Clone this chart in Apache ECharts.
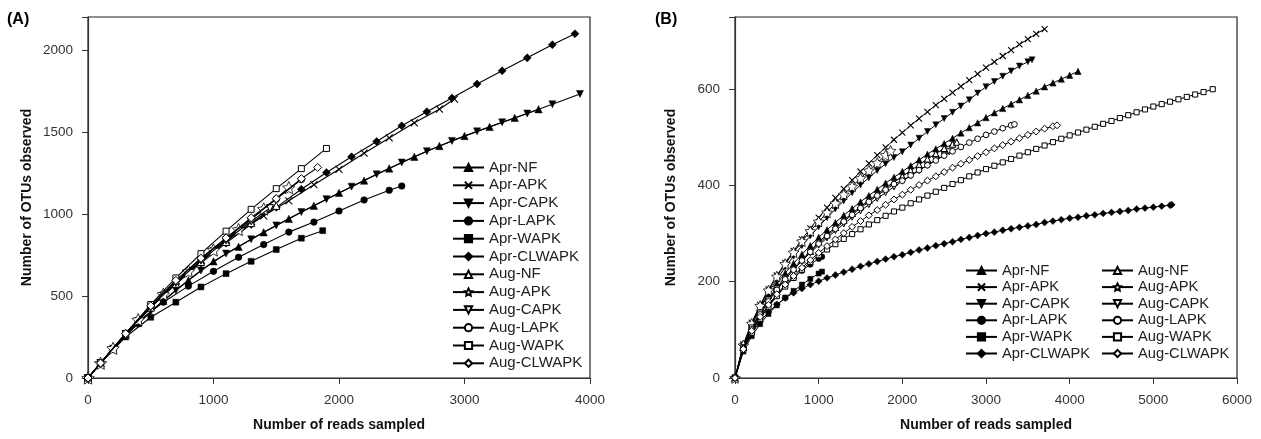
<!DOCTYPE html>
<html><head><meta charset="utf-8">
<script src="https://cdn.jsdelivr.net/npm/echarts@6/dist/echarts.min.js"></script>
<style>html,body{margin:0;padding:0;background:#fff}#c{width:1261px;height:439px}</style>
</head><body><div id="c"></div>
<script>
// ---------- DATA ----------
const seriesNames = ['Apr-NF','Apr-APK','Apr-CAPK','Apr-LAPK','Apr-WAPK','Apr-CLWAPK',
                     'Aug-NF','Aug-APK','Aug-CAPK','Aug-LAPK','Aug-WAPK','Aug-CLWAPK'];

// Panel A: reads sampled and OTUs observed
const readsA_AprNF  = [0,100,200,400,600,800,1000,1200,1400,1600,1800,2000,2200,2400,2600,2800,3000,3200,3400,3590];
const otusA_AprNF   = [0,90,178,335,470,595,711,800,888,970,1050,1128,1203,1277,1348,1414,1475,1530,1585,1638];
const readsA_AprAPK = [0,100,200,400,600,800,1000,1200,1400,1600,1800,2000,2200,2400,2600,2800,2920];
const otusA_AprAPK  = [0,90,180,350,505,645,775,893,988,1080,1178,1272,1370,1463,1555,1638,1700];
const readsA_AprCAPK = [0,100,300,500,700,900,1100,1300,1500,1700,1900,2100,2300,2500,2700,2900,3100,3300,3500,3700,3920];
const otusA_AprCAPK  = [0,90,260,405,535,655,758,845,930,1011,1090,1166,1241,1313,1382,1445,1503,1558,1612,1668,1731];
const readsA_AprLAPK = [0,100,200,400,600,800,1000,1200,1400,1600,1800,2000,2200,2400,2500];
const otusA_AprLAPK  = [0,90,178,345,462,560,650,736,813,889,950,1018,1085,1144,1170];
const readsA_AprWAPK = [0,100,300,500,700,900,1100,1300,1500,1700,1870];
const otusA_AprWAPK  = [0,90,250,370,462,555,636,711,783,852,898];
const readsA_AprCLWAPK = [0,100,300,500,700,900,1100,1300,1500,1700,1900,2100,2300,2500,2700,2900,3100,3300,3500,3700,3880];
const otusA_AprCLWAPK  = [0,90,270,432,572,700,822,936,1040,1150,1252,1348,1441,1537,1623,1706,1792,1872,1951,2031,2098];
const readsA_AugNF  = [0,100,300,500,700,900,1100,1300,1500];
const otusA_AugNF   = [0,91,268,430,575,708,830,945,1050];
const readsA_AugAPK = [0,100,200,400,600,800,1000,1200,1400,1600];
const otusA_AugAPK  = [0,90,181,355,510,650,780,905,1030,1160];
const readsA_AugCAPK = [0,100,300,500,700,900,1100,1300,1450];
const otusA_AugCAPK  = [0,91,268,432,580,715,838,955,1035];
const readsA_AugLAPK = [0,100,300,500,700,900,1100,1300,1500,1700];
const otusA_AugLAPK  = [0,92,272,440,590,725,850,970,1090,1210];
const readsA_AugWAPK = [0,100,300,500,700,900,1100,1300,1500,1700,1900];
const otusA_AugWAPK  = [0,92,272,448,610,758,895,1028,1154,1276,1399];
const readsA_AugCLWAPK = [0,100,300,500,700,900,1100,1300,1500,1700,1830];
const otusA_AugCLWAPK  = [0,91,270,440,595,730,854,977,1093,1215,1283];

// Panel B: OTUs observed every 100 reads; last point at the sample's total reads
const stepB = 100;
const lastReadsB = [4100,3700,3550,1040,1040,5220,2650,1860,2560,3340,5710,3850];
const otusB_AprNF = [0,68,112,145,172,196,218,238,257,275,292,308,323,338,352,366,379,392,405,417,429,441,453,465,476,487,498,509,520,530,541,551,560,569,578,587,596,605,613,621,629,637];
const otusB_AprAPK = [0,70,115,152,184,213,239,264,288,311,333,354,374,393,411,429,446,463,479,495,510,525,539,553,567,580,593,606,619,632,645,657,669,681,693,704,715,725];
const otusB_AprCAPK = [0,67,110,146,177,205,230,253,275,295,314,333,351,368,385,401,416,431,445,458,470,484,498,512,526,539,552,565,578,592,605,616,627,638,648,657,661];
const otusB_AprLAPK = [0,60,97,126,151,172,191,208,223,236,248,252];
const otusB_AprWAPK = [0,55,87,112,133,151,167,181,194,206,217,221];
const otusB_AprCLWAPK = [0,58,93,117,137,153,166,177,186,194,201,208,214,220,226,232,237,242,247,252,256,261,266,270,275,279,283,288,292,296,300,303,307,310,313,316,319,323,326,329,332,334,337,339,342,344,346,348,351,353,355,357,359,360];
const otusB_AugNF = [0,64,106,138,165,188,209,228,246,263,283,298,313,328,342,356,369,382,395,407,419,431,443,455,466,477,486,490];
const otusB_AugAPK = [0,68,113,150,182,211,237,261,284,305,325,344,363,381,398,415,431,447,463,472];
const otusB_AugCAPK = [0,63,104,135,162,185,206,225,243,260,276,291,306,320,334,347,360,373,385,397,409,420,431,442,453,463,470];
const otusB_AugLAPK = [0,62,101,132,159,183,205,225,244,262,279,295,310,325,339,353,366,379,391,403,410,421,432,442,452,462,471,480,489,497,505,512,519,525,527];
const otusB_AugWAPK = [0,58,94,123,148,170,190,208,225,241,255,267,278,289,299,309,319,328,337,346,354,363,371,379,387,395,403,411,419,427,434,441,448,455,462,469,476,483,490,497,504,510,516,522,528,534,540,546,552,558,564,569,574,579,584,589,594,600];
const otusB_AugCLWAPK = [0,60,98,127,152,174,194,212,229,245,260,274,288,301,314,326,338,349,360,371,381,391,401,410,419,428,437,445,453,461,469,477,484,491,498,505,512,518,523,525];

// axis ticks
const xTicksA = [0,1000,2000,3000,4000];
const yTicksA = [0,500,1000,1500,2000];
const xTicksB = [0,1000,2000,3000,4000,5000,6000];
const yTicksB = [0,200,400,600];

// ---------- BUILD ----------
const readsA = [readsA_AprNF,readsA_AprAPK,readsA_AprCAPK,readsA_AprLAPK,readsA_AprWAPK,readsA_AprCLWAPK,
                readsA_AugNF,readsA_AugAPK,readsA_AugCAPK,readsA_AugLAPK,readsA_AugWAPK,readsA_AugCLWAPK];
const otusA = [otusA_AprNF,otusA_AprAPK,otusA_AprCAPK,otusA_AprLAPK,otusA_AprWAPK,otusA_AprCLWAPK,
               otusA_AugNF,otusA_AugAPK,otusA_AugCAPK,otusA_AugLAPK,otusA_AugWAPK,otusA_AugCLWAPK];
const otusB = [otusB_AprNF,otusB_AprAPK,otusB_AprCAPK,otusB_AprLAPK,otusB_AprWAPK,otusB_AprCLWAPK,
               otusB_AugNF,otusB_AugAPK,otusB_AugCAPK,otusB_AugLAPK,otusB_AugWAPK,otusB_AugCLWAPK];

const STAR = 'path://M50,0L64.7,29.8L97.6,34.5L73.8,57.7L79.4,90.5L50,75L20.6,90.5L26.2,57.7L2.4,34.5L35.3,29.8Z';
const TDOWN = 'path://M0,0L10,0L5,9Z';
const CROSS = 'path://M0,0L10,10M10,0L0,10';
// [symbol, filled, size factor]
const sym = [
  ['triangle',true,1.05],[CROSS,'cross',1],[TDOWN,true,1],['circle',true,0.95],['rect',true,0.85],['diamond',true,1.15],
  ['triangle',false,1.05],[STAR,false,1.75],[TDOWN,false,1],['circle',false,0.95],['rect',false,0.85],['diamond',false,1.15]
];
function itemStyleFor(k){
  const f = sym[k][1];
  if (f === 'cross') return {color:'#000',borderColor:'#000',borderWidth:1.1};
  if (f) return {color:'#000',borderColor:'#000',borderWidth:0.5};
  return {color:'#fff',borderColor:'#000',borderWidth:k===7?0.8:1};
}

const series = [];
seriesNames.forEach((name,k)=>{
  const dA = readsA[k].map((r,i)=>[r, otusA[k][i]]);
  series.push({
    name, type:'line', xAxisIndex:0, yAxisIndex:0, data:dA,
    symbol:sym[k][0], symbolSize:7*sym[k][2], showAllSymbol:true,
    lineStyle:{color:'#000',width:1.1}, itemStyle:itemStyleFor(k),
    emphasis:{disabled:true}, z: 2 + k*0.01
  });
  const arr = otusB[k];
  const dB = arr.map((v,i)=>[i===arr.length-1 ? lastReadsB[k] : i*stepB, v]);
  series.push({
    name, type:'line', xAxisIndex:1, yAxisIndex:1, data:dB,
    symbol:sym[k][0], symbolSize:6*sym[k][2], showAllSymbol:true,
    lineStyle:{color:'#000',width:1}, itemStyle:itemStyleFor(k),
    emphasis:{disabled:true}, z: 2 + k*0.01
  });
});

const FONT = 'Liberation Sans, Arial, sans-serif';
function xAxis(grid, ticks){
  return {
    type:'value', gridIndex:grid, min:ticks[0], max:ticks[ticks.length-1], interval:ticks[1]-ticks[0],
    name:'Number of reads sampled', nameLocation:'middle', nameGap:40,
    nameTextStyle:{fontFamily:FONT,fontSize:14,fontWeight:'bold',color:'#111'},
    axisLine:{show:true,onZero:false,lineStyle:{color:'#333',width:1.2}},
    axisTick:{show:true,inside:false,length:6,lineStyle:{color:'#333'}},
    axisLabel:{fontFamily:FONT,fontSize:13.5,color:'#333',margin:15,formatter:(v)=>String(v)},
    splitLine:{show:false}
  };
}
function yAxis(grid, ticks, max, gap){
  const step = ticks[1]-ticks[0];
  return {
    type:'value', gridIndex:grid, min:0, max:max, interval:step,
    name:'Number of OTUs observed', nameLocation:'middle', nameGap:gap,
    nameTextStyle:{fontFamily:FONT,fontSize:14,fontWeight:'bold',color:'#111'},
    axisLine:{show:true,onZero:false,lineStyle:{color:'#333',width:1.2}},
    axisTick:{show:true,inside:false,length:6,lineStyle:{color:'#333'}},
    axisLabel:{fontFamily:FONT,fontSize:13.5,color:'#333',margin:15,
      formatter:(v)=> ticks.indexOf(v)>=0 ? String(v) : ''},
    splitLine:{show:false}
  };
}

const legendTextA = {fontFamily:FONT,fontSize:15,color:'#222',lineHeight:14,padding:[0,0,0,0]};
const legendTextB = {fontFamily:FONT,fontSize:14.7,color:'#222',lineHeight:14,padding:[0,0,0,0]};
const option = {
  animation:false,
  backgroundColor:'#fff',
  grid:[
    {left:88,right:671,top:17,bottom:61,show:true,borderColor:'#222',borderWidth:1.2,backgroundColor:'transparent'},
    {left:735,right:24,top:17,bottom:61,show:true,borderColor:'#222',borderWidth:1.2,backgroundColor:'transparent'}
  ],
  xAxis:[xAxis(0,xTicksA), xAxis(1,xTicksB)],
  yAxis:[yAxis(0,yTicksA,2200,54), yAxis(1,yTicksB,750,57)],
  legend:[
    {data:seriesNames, orient:'vertical', left:447, top:155, itemWidth:31, itemHeight:9, itemGap:2.8,
     textStyle:legendTextA, selectedMode:false},
    {data:seriesNames.slice(0,6), orient:'vertical', left:960, top:258, itemWidth:31, itemHeight:9, itemGap:1.6,
     textStyle:legendTextB, selectedMode:false},
    {data:seriesNames.slice(6), orient:'vertical', left:1096, top:258, itemWidth:31, itemHeight:9, itemGap:1.6,
     textStyle:legendTextB, selectedMode:false}
  ],
  graphic:[
    {type:'text', left:7, top:12, style:{text:'(A)', font:'bold 16px Liberation Sans, Arial, sans-serif', fill:'#000'}},
    {type:'text', left:655, top:12, style:{text:'(B)', font:'bold 16px Liberation Sans, Arial, sans-serif', fill:'#000'}}
  ],
  series
};
const chart = echarts.init(document.getElementById('c'), null, {renderer:'canvas'});
chart.setOption(option);
</script></body></html>
